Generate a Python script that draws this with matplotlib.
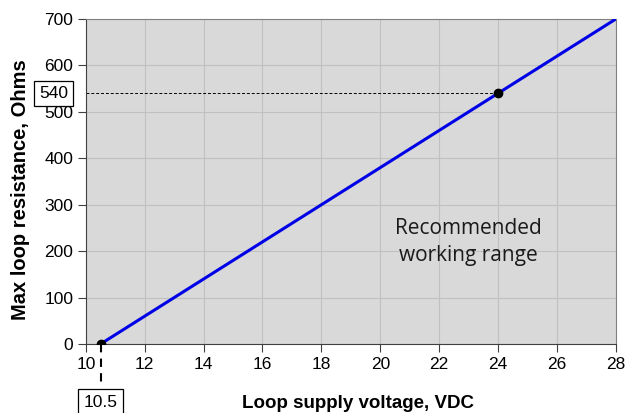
import matplotlib.pyplot as plt

# supply voltage (VDC) vs max loop resistance (Ohms)
voltage = [10.5, 28]
resistance = [0, 700]
# marked operating points
pt_v = [10.5, 24]
pt_r = [0, 540]
xticks = [10, 12, 14, 16, 18, 20, 22, 24, 26, 28]
yticks = [0, 100, 200, 300, 400, 500, 600, 700]

plt.rcParams['font.family'] = ['Liberation Sans', 'DejaVu Sans']

fig = plt.figure(figsize=(6.31, 4.13), dpi=100)
ax = fig.add_axes([0.136, 0.167, 0.840, 0.787])
ax.set_facecolor('#d9d9d9')

ax.plot(voltage, resistance, color='#0000e6', lw=2.2, zorder=3)
ax.plot(pt_v, pt_r, 'o', color='black', ms=6, zorder=4)

# guide lines to the boxed values
ax.plot([10, pt_v[1]], [pt_r[1], pt_r[1]], color='black', lw=0.7, ls=(0, (3, 2)), zorder=2)
ax.plot([pt_v[0], pt_v[0]], [0, -88], color='black', lw=1.5, ls=(0, (4, 3)),
        clip_on=False, zorder=4)

ax.set_xlim(10, 28)
ax.set_ylim(0, 700)
ax.set_xticks(xticks)
ax.set_yticks(yticks)
ax.tick_params(labelsize=12.5, length=6, width=0.8, color='#404040', pad=3)
ax.grid(True, color='#c0c0c0', lw=0.8)
ax.set_axisbelow(True)
for s in ['top', 'right']:
    ax.spines[s].set_color('#808080')
for s in ['left', 'bottom']:
    ax.spines[s].set_color('#404040')

ax.text(10.5, -125, '10.5', ha='center', va='center', fontsize=12.5,
        bbox=dict(boxstyle='square,pad=0.3', fc='white', ec='black', lw=0.9))
ax.text(8.9, 540, '540', ha='center', va='center', fontsize=12.5,
        bbox=dict(boxstyle='square,pad=0.3', fc='white', ec='black', lw=0.9))

ax.text(23.0, 220, 'Recommended\nworking range', ha='center', va='center',
        fontsize=15, family=['Open Sans', 'DejaVu Sans'], linespacing=1.4,
        color='#1a1a1a')

fig.text(0.567, 0.024, 'Loop supply voltage, VDC', ha='center', va='center',
         fontsize=13.5, fontweight='bold')
fig.text(0.032, 0.54, 'Max loop resistance, Ohms', ha='center', va='center',
         rotation=90, fontsize=14.5, fontweight='bold')

fig.savefig('out.png', dpi=100)
